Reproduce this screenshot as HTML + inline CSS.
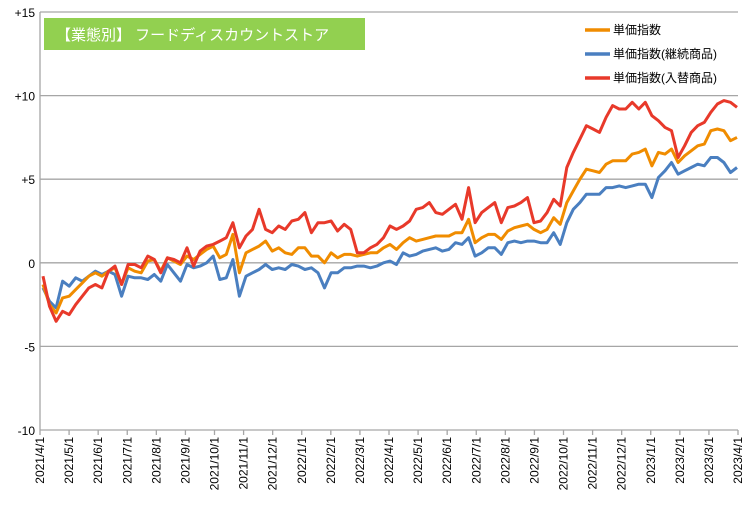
<!DOCTYPE html>
<html><head><meta charset="utf-8"><style>
body{margin:0;background:#fff;}
svg{display:block;font-family:"Liberation Sans","Noto Sans CJK JP",sans-serif;}
</style></head><body>
<svg id="chart" width="742" height="510" viewBox="0 0 742 510" xmlns="http://www.w3.org/2000/svg">
<rect x="0" y="0" width="742" height="510" fill="#fff"/>
<g id="grid"></g>
<g id="axes"></g>
<g id="series"></g>
<rect x="44" y="18" width="321" height="32" fill="#92d050"/>
<text x="56" y="40" font-size="15" fill="#fff">【業態別】 フードディスカウントストア</text>
<g>
<g><line x1="585" y1="30" x2="610" y2="30" stroke="#f08c00" stroke-width="3.5"/><text x="613" y="34" font-size="12">単価指数</text></g>
<g><line x1="585" y1="54" x2="610" y2="54" stroke="#4a7fc0" stroke-width="3.5"/><text x="613" y="58" font-size="12">単価指数(継続商品)</text></g>
<g><line x1="585" y1="78" x2="610" y2="78" stroke="#e8392a" stroke-width="3.5"/><text x="613" y="82" font-size="12">単価指数(入替商品)</text></g>
</g>
</svg>
<script>
const yTicks=[15,10,5,0,-5,-10];
const yTickLabels=["+15","+10","+5","0","-5","-10"];
const xTickLabels=["2021/4/1","2021/5/1","2021/6/1","2021/7/1","2021/8/1","2021/9/1","2021/10/1","2021/11/1","2021/12/1","2022/1/1","2022/2/1","2022/3/1","2022/4/1","2022/5/1","2022/6/1","2022/7/1","2022/8/1","2022/9/1","2022/10/1","2022/11/1","2022/12/1","2023/1/1","2023/2/1","2023/3/1","2023/4/1"];
const indexSeries=[-1.3,-2.5,-3.0,-2.1,-2.0,-1.6,-1.2,-0.8,-0.6,-0.8,-0.5,-0.3,-1.3,-0.3,-0.5,-0.6,0.1,0.2,-0.5,0.3,0.1,-0.1,0.4,0.2,0.5,0.8,1.0,0.3,0.5,1.7,-0.6,0.6,0.8,1.0,1.3,0.7,0.9,0.6,0.5,0.9,0.9,0.4,0.4,0.0,0.6,0.3,0.5,0.5,0.4,0.5,0.6,0.6,0.9,1.1,0.8,1.2,1.5,1.3,1.4,1.5,1.6,1.6,1.6,1.8,1.8,2.6,1.2,1.5,1.7,1.7,1.4,1.9,2.1,2.2,2.3,2.0,1.8,2.0,2.7,2.3,3.6,4.3,5.0,5.6,5.5,5.4,5.9,6.1,6.1,6.1,6.5,6.6,6.8,5.8,6.6,6.5,6.8,6.0,6.4,6.7,7.0,7.1,7.9,8.0,7.9,7.3,7.5];
const continuingSeries=[-1.5,-2.3,-2.7,-1.1,-1.4,-0.9,-1.1,-0.8,-0.5,-0.7,-0.5,-0.7,-2.0,-0.8,-0.9,-0.9,-1.0,-0.7,-1.1,-0.1,-0.6,-1.1,-0.1,-0.3,-0.2,0.0,0.4,-1.0,-0.9,0.2,-2.0,-0.8,-0.6,-0.4,-0.1,-0.4,-0.3,-0.4,-0.1,-0.2,-0.4,-0.3,-0.6,-1.5,-0.6,-0.6,-0.3,-0.3,-0.2,-0.2,-0.3,-0.2,0.0,0.1,-0.1,0.6,0.4,0.5,0.7,0.8,0.9,0.7,0.8,1.2,1.1,1.5,0.4,0.6,0.9,0.9,0.5,1.2,1.3,1.2,1.3,1.3,1.2,1.2,1.8,1.1,2.4,3.2,3.6,4.1,4.1,4.1,4.5,4.5,4.6,4.5,4.6,4.7,4.7,3.9,5.1,5.5,6.0,5.3,5.5,5.7,5.9,5.8,6.3,6.3,6.0,5.4,5.7];
const replacedSeries=[-0.8,-2.6,-3.5,-2.9,-3.1,-2.5,-2.0,-1.5,-1.3,-1.5,-0.5,-0.2,-1.3,-0.1,-0.1,-0.3,0.4,0.2,-0.6,0.3,0.2,0.0,0.9,-0.2,0.7,1.0,1.1,1.3,1.5,2.4,0.9,1.6,2.0,3.2,2.0,1.8,2.2,2.0,2.5,2.6,3.0,1.8,2.4,2.4,2.5,1.9,2.3,2.0,0.6,0.6,0.9,1.1,1.5,2.2,2.0,2.2,2.5,3.2,3.3,3.6,3.0,2.9,3.2,3.5,2.6,4.5,2.4,3.0,3.3,3.6,2.4,3.3,3.4,3.6,3.9,2.4,2.5,3.0,3.8,3.4,5.7,6.6,7.4,8.2,8.0,7.8,8.7,9.4,9.2,9.2,9.6,9.2,9.6,8.8,8.5,8.1,7.9,6.3,7.0,7.8,8.2,8.4,9.0,9.5,9.7,9.6,9.3];

const NS="http://www.w3.org/2000/svg";
const X0=40,X1=738,Y0=12,Y1=430;
function yScale(v){return Y1-(v+10)/25*(Y1-Y0);}
function xScaleIdx(i,n){return X0+3+i*(X1-X0-4)/(n-1);}
function xScaleTick(i){return X0+i*(X1-X0)/(xTickLabels.length-1);}
function mk(tag,attrs,parent){const e=document.createElementNS(NS,tag);for(const k in attrs)e.setAttribute(k,attrs[k]);parent.appendChild(e);return e;}
const grid=document.getElementById('grid'),axes=document.getElementById('axes'),series=document.getElementById('series');
yTicks.forEach((v,i)=>{
  const y=yScale(v);
  const l=mk('line',{x1:X0,x2:X1,y1:y,y2:y,stroke:'#a6a6a6','stroke-width':1.3},grid);
  
  
  const t=mk('text',{x:X0-5,y:y+5,'font-size':12,'text-anchor':'end',fill:'#000'},axes);
  t.textContent=yTickLabels[i];
  
  
});
const ya=mk('line',{x1:X0,x2:X0,y1:Y0,y2:Y1,stroke:'#a6a6a6','stroke-width':1.3},axes);


xTickLabels.forEach((lab,i)=>{
  const x=xScaleTick(i);
  const tk=mk('line',{x1:x,x2:x,y1:Y1,y2:Y1+5,stroke:'#a6a6a6','stroke-width':1.3},axes);
  
  
  const t=mk('text',{x:0,y:0,'font-size':12,'text-anchor':'end',fill:'#000',transform:`translate(${x+4},${Y1+7}) rotate(-90)`},axes);
  t.textContent=lab;
  
  
});
function drawLine(arr,color,name){
  const pts=arr.map((v,i)=>xScaleIdx(i,arr.length).toFixed(1)+','+yScale(v).toFixed(1)).join(' ');
  const p=mk('polyline',{points:pts,fill:'none',stroke:color,'stroke-width':3,'stroke-linejoin':'round'},series);
  
  
}
drawLine(continuingSeries,'#4a7fc0','line-continuing');
drawLine(indexSeries,'#f08c00','line-index');
drawLine(replacedSeries,'#e8392a','line-replaced');
</script>
</body></html>
